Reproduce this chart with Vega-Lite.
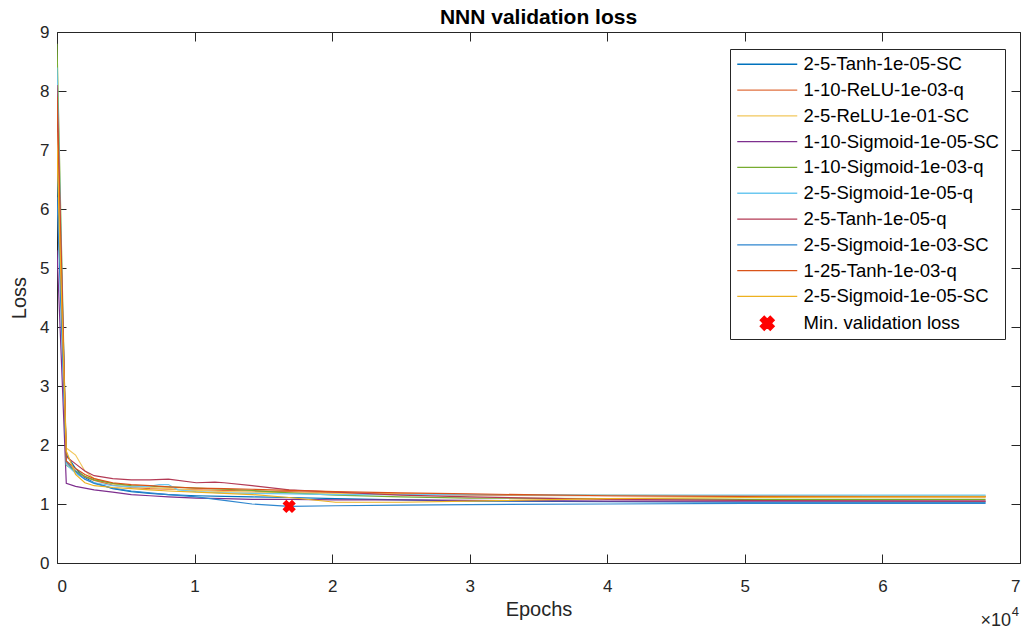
{
  "$schema": "https://vega.github.io/schema/vega-lite/v6.json",
  "width": 963,
  "height": 531,
  "autosize": {"type": "none"},
  "padding": {"left": 57, "top": 32, "right": 10, "bottom": 67},
  "background": "white",
  "title": {"text": "NNN validation loss", "font": "Liberation Sans", "fontSize": 21, "fontWeight": "bold", "color": "#000000", "anchor": "middle", "offset": -5},
  "config": {
    "view": {"stroke": "#262626", "strokeWidth": 1},
    "axis": {"grid": false, "domain": false, "tickColor": "#262626", "tickSize": -9, "tickWidth": 1, "labelFont": "Liberation Sans", "labelFontSize": 17, "labelColor": "#262626", "titleFont": "Liberation Sans", "titleFontSize": 20, "titleFontWeight": "normal", "titleColor": "#262626"}
  },
  "resolve": {"axis": {"x": "independent", "y": "independent"}},
  "layer": [
    {
      "data": {"values": [
        {"s":"2-5-Tanh-1e-05-SC","e":0,"l":6.7},{"s":"2-5-Tanh-1e-05-SC","e":675,"l":1.84},{"s":"2-5-Tanh-1e-05-SC","e":1350,"l":1.6},{"s":"2-5-Tanh-1e-05-SC","e":2025,"l":1.45},{"s":"2-5-Tanh-1e-05-SC","e":2700,"l":1.36},{"s":"2-5-Tanh-1e-05-SC","e":4050,"l":1.26},{"s":"2-5-Tanh-1e-05-SC","e":5400,"l":1.21},{"s":"2-5-Tanh-1e-05-SC","e":6750,"l":1.18},{"s":"2-5-Tanh-1e-05-SC","e":8100,"l":1.16},{"s":"2-5-Tanh-1e-05-SC","e":10125,"l":1.14},{"s":"2-5-Tanh-1e-05-SC","e":12150,"l":1.13},{"s":"2-5-Tanh-1e-05-SC","e":14175,"l":1.12},{"s":"2-5-Tanh-1e-05-SC","e":16875,"l":1.11},{"s":"2-5-Tanh-1e-05-SC","e":20250,"l":1.09},{"s":"2-5-Tanh-1e-05-SC","e":25000,"l":1.07},{"s":"2-5-Tanh-1e-05-SC","e":30000,"l":1.05},{"s":"2-5-Tanh-1e-05-SC","e":40000,"l":1.04},{"s":"2-5-Tanh-1e-05-SC","e":50000,"l":1.03},{"s":"2-5-Tanh-1e-05-SC","e":67500,"l":1.03},
        {"s":"1-10-ReLU-1e-03-q","e":0,"l":7.4},{"s":"1-10-ReLU-1e-03-q","e":675,"l":1.7},{"s":"1-10-ReLU-1e-03-q","e":1350,"l":1.55},{"s":"1-10-ReLU-1e-03-q","e":2025,"l":1.46},{"s":"1-10-ReLU-1e-03-q","e":2700,"l":1.4},{"s":"1-10-ReLU-1e-03-q","e":4050,"l":1.32},{"s":"1-10-ReLU-1e-03-q","e":5400,"l":1.28},{"s":"1-10-ReLU-1e-03-q","e":6750,"l":1.26},{"s":"1-10-ReLU-1e-03-q","e":8100,"l":1.25},{"s":"1-10-ReLU-1e-03-q","e":10125,"l":1.24},{"s":"1-10-ReLU-1e-03-q","e":12150,"l":1.23},{"s":"1-10-ReLU-1e-03-q","e":14175,"l":1.22},{"s":"1-10-ReLU-1e-03-q","e":16875,"l":1.21},{"s":"1-10-ReLU-1e-03-q","e":20250,"l":1.19},{"s":"1-10-ReLU-1e-03-q","e":25000,"l":1.17},{"s":"1-10-ReLU-1e-03-q","e":30000,"l":1.15},{"s":"1-10-ReLU-1e-03-q","e":40000,"l":1.14},{"s":"1-10-ReLU-1e-03-q","e":50000,"l":1.13},{"s":"1-10-ReLU-1e-03-q","e":67500,"l":1.13},
        {"s":"2-5-ReLU-1e-01-SC","e":0,"l":7.3},{"s":"2-5-ReLU-1e-01-SC","e":675,"l":1.95},{"s":"2-5-ReLU-1e-01-SC","e":1350,"l":1.83},{"s":"2-5-ReLU-1e-01-SC","e":2025,"l":1.56},{"s":"2-5-ReLU-1e-01-SC","e":2700,"l":1.43},{"s":"2-5-ReLU-1e-01-SC","e":4050,"l":1.34},{"s":"2-5-ReLU-1e-01-SC","e":5400,"l":1.3},{"s":"2-5-ReLU-1e-01-SC","e":6750,"l":1.28},{"s":"2-5-ReLU-1e-01-SC","e":8100,"l":1.26},{"s":"2-5-ReLU-1e-01-SC","e":10125,"l":1.23},{"s":"2-5-ReLU-1e-01-SC","e":12150,"l":1.21},{"s":"2-5-ReLU-1e-01-SC","e":14175,"l":1.2},{"s":"2-5-ReLU-1e-01-SC","e":16875,"l":1.19},{"s":"2-5-ReLU-1e-01-SC","e":20250,"l":1.18},{"s":"2-5-ReLU-1e-01-SC","e":25000,"l":1.17},{"s":"2-5-ReLU-1e-01-SC","e":30000,"l":1.16},{"s":"2-5-ReLU-1e-01-SC","e":40000,"l":1.15},{"s":"2-5-ReLU-1e-01-SC","e":50000,"l":1.14},{"s":"2-5-ReLU-1e-01-SC","e":67500,"l":1.14},
        {"s":"1-10-Sigmoid-1e-05-SC","e":0,"l":5.3},{"s":"1-10-Sigmoid-1e-05-SC","e":675,"l":1.35},{"s":"1-10-Sigmoid-1e-05-SC","e":1350,"l":1.3},{"s":"1-10-Sigmoid-1e-05-SC","e":2025,"l":1.27},{"s":"1-10-Sigmoid-1e-05-SC","e":2700,"l":1.24},{"s":"1-10-Sigmoid-1e-05-SC","e":4050,"l":1.2},{"s":"1-10-Sigmoid-1e-05-SC","e":5400,"l":1.16},{"s":"1-10-Sigmoid-1e-05-SC","e":6750,"l":1.14},{"s":"1-10-Sigmoid-1e-05-SC","e":8100,"l":1.12},{"s":"1-10-Sigmoid-1e-05-SC","e":10125,"l":1.1},{"s":"1-10-Sigmoid-1e-05-SC","e":12150,"l":1.09},{"s":"1-10-Sigmoid-1e-05-SC","e":14175,"l":1.08},{"s":"1-10-Sigmoid-1e-05-SC","e":16875,"l":1.08},{"s":"1-10-Sigmoid-1e-05-SC","e":20250,"l":1.07},{"s":"1-10-Sigmoid-1e-05-SC","e":25000,"l":1.07},{"s":"1-10-Sigmoid-1e-05-SC","e":30000,"l":1.06},{"s":"1-10-Sigmoid-1e-05-SC","e":40000,"l":1.05},{"s":"1-10-Sigmoid-1e-05-SC","e":50000,"l":1.05},{"s":"1-10-Sigmoid-1e-05-SC","e":67500,"l":1.05},
        {"s":"1-10-Sigmoid-1e-03-q","e":0,"l":8.8},{"s":"1-10-Sigmoid-1e-03-q","e":675,"l":1.66},{"s":"1-10-Sigmoid-1e-03-q","e":1350,"l":1.56},{"s":"1-10-Sigmoid-1e-03-q","e":2025,"l":1.47},{"s":"1-10-Sigmoid-1e-03-q","e":2700,"l":1.41},{"s":"1-10-Sigmoid-1e-03-q","e":4050,"l":1.35},{"s":"1-10-Sigmoid-1e-03-q","e":5400,"l":1.31},{"s":"1-10-Sigmoid-1e-03-q","e":6750,"l":1.3},{"s":"1-10-Sigmoid-1e-03-q","e":8100,"l":1.29},{"s":"1-10-Sigmoid-1e-03-q","e":10125,"l":1.27},{"s":"1-10-Sigmoid-1e-03-q","e":12150,"l":1.25},{"s":"1-10-Sigmoid-1e-03-q","e":14175,"l":1.23},{"s":"1-10-Sigmoid-1e-03-q","e":16875,"l":1.19},{"s":"1-10-Sigmoid-1e-03-q","e":20250,"l":1.15},{"s":"1-10-Sigmoid-1e-03-q","e":25000,"l":1.12},{"s":"1-10-Sigmoid-1e-03-q","e":30000,"l":1.1},{"s":"1-10-Sigmoid-1e-03-q","e":40000,"l":1.09},{"s":"1-10-Sigmoid-1e-03-q","e":50000,"l":1.08},{"s":"1-10-Sigmoid-1e-03-q","e":67500,"l":1.08},
        {"s":"2-5-Sigmoid-1e-05-q","e":0,"l":8.4},{"s":"2-5-Sigmoid-1e-05-q","e":675,"l":1.67},{"s":"2-5-Sigmoid-1e-05-q","e":1350,"l":1.52},{"s":"2-5-Sigmoid-1e-05-q","e":2025,"l":1.42},{"s":"2-5-Sigmoid-1e-05-q","e":2700,"l":1.36},{"s":"2-5-Sigmoid-1e-05-q","e":4050,"l":1.31},{"s":"2-5-Sigmoid-1e-05-q","e":5400,"l":1.29},{"s":"2-5-Sigmoid-1e-05-q","e":6750,"l":1.3},{"s":"2-5-Sigmoid-1e-05-q","e":7425,"l":1.33},{"s":"2-5-Sigmoid-1e-05-q","e":8100,"l":1.33},{"s":"2-5-Sigmoid-1e-05-q","e":8775,"l":1.24},{"s":"2-5-Sigmoid-1e-05-q","e":10125,"l":1.21},{"s":"2-5-Sigmoid-1e-05-q","e":12150,"l":1.19},{"s":"2-5-Sigmoid-1e-05-q","e":14175,"l":1.18},{"s":"2-5-Sigmoid-1e-05-q","e":16875,"l":1.17},{"s":"2-5-Sigmoid-1e-05-q","e":20250,"l":1.16},{"s":"2-5-Sigmoid-1e-05-q","e":25000,"l":1.16},{"s":"2-5-Sigmoid-1e-05-q","e":30000,"l":1.16},{"s":"2-5-Sigmoid-1e-05-q","e":40000,"l":1.15},{"s":"2-5-Sigmoid-1e-05-q","e":50000,"l":1.15},{"s":"2-5-Sigmoid-1e-05-q","e":67500,"l":1.15},
        {"s":"2-5-Tanh-1e-05-q","e":0,"l":8.1},{"s":"2-5-Tanh-1e-05-q","e":675,"l":1.8},{"s":"2-5-Tanh-1e-05-q","e":1350,"l":1.68},{"s":"2-5-Tanh-1e-05-q","e":2025,"l":1.56},{"s":"2-5-Tanh-1e-05-q","e":2700,"l":1.48},{"s":"2-5-Tanh-1e-05-q","e":4050,"l":1.43},{"s":"2-5-Tanh-1e-05-q","e":5400,"l":1.41},{"s":"2-5-Tanh-1e-05-q","e":6750,"l":1.41},{"s":"2-5-Tanh-1e-05-q","e":8100,"l":1.42},{"s":"2-5-Tanh-1e-05-q","e":10125,"l":1.36},{"s":"2-5-Tanh-1e-05-q","e":11475,"l":1.37},{"s":"2-5-Tanh-1e-05-q","e":12150,"l":1.36},{"s":"2-5-Tanh-1e-05-q","e":14175,"l":1.31},{"s":"2-5-Tanh-1e-05-q","e":16875,"l":1.24},{"s":"2-5-Tanh-1e-05-q","e":20250,"l":1.2},{"s":"2-5-Tanh-1e-05-q","e":25000,"l":1.15},{"s":"2-5-Tanh-1e-05-q","e":30000,"l":1.12},{"s":"2-5-Tanh-1e-05-q","e":40000,"l":1.08},{"s":"2-5-Tanh-1e-05-q","e":50000,"l":1.06},{"s":"2-5-Tanh-1e-05-q","e":67500,"l":1.05},
        {"s":"2-5-Sigmoid-1e-03-SC","e":0,"l":6.2},{"s":"2-5-Sigmoid-1e-03-SC","e":675,"l":1.72},{"s":"2-5-Sigmoid-1e-03-SC","e":1350,"l":1.55},{"s":"2-5-Sigmoid-1e-03-SC","e":2025,"l":1.42},{"s":"2-5-Sigmoid-1e-03-SC","e":2700,"l":1.35},{"s":"2-5-Sigmoid-1e-03-SC","e":4050,"l":1.27},{"s":"2-5-Sigmoid-1e-03-SC","e":5400,"l":1.22},{"s":"2-5-Sigmoid-1e-03-SC","e":6750,"l":1.19},{"s":"2-5-Sigmoid-1e-03-SC","e":8100,"l":1.16},{"s":"2-5-Sigmoid-1e-03-SC","e":10125,"l":1.12},{"s":"2-5-Sigmoid-1e-03-SC","e":12150,"l":1.06},{"s":"2-5-Sigmoid-1e-03-SC","e":14175,"l":1.0},{"s":"2-5-Sigmoid-1e-03-SC","e":16875,"l":0.96},{"s":"2-5-Sigmoid-1e-03-SC","e":20250,"l":0.97},{"s":"2-5-Sigmoid-1e-03-SC","e":25000,"l":0.98},{"s":"2-5-Sigmoid-1e-03-SC","e":30000,"l":0.99},{"s":"2-5-Sigmoid-1e-03-SC","e":40000,"l":1.0},{"s":"2-5-Sigmoid-1e-03-SC","e":50000,"l":1.01},{"s":"2-5-Sigmoid-1e-03-SC","e":67500,"l":1.01},
        {"s":"1-25-Tanh-1e-03-q","e":0,"l":7.9},{"s":"1-25-Tanh-1e-03-q","e":675,"l":1.73},{"s":"1-25-Tanh-1e-03-q","e":1350,"l":1.6},{"s":"1-25-Tanh-1e-03-q","e":2025,"l":1.5},{"s":"1-25-Tanh-1e-03-q","e":2700,"l":1.43},{"s":"1-25-Tanh-1e-03-q","e":4050,"l":1.36},{"s":"1-25-Tanh-1e-03-q","e":5400,"l":1.33},{"s":"1-25-Tanh-1e-03-q","e":6750,"l":1.31},{"s":"1-25-Tanh-1e-03-q","e":8100,"l":1.29},{"s":"1-25-Tanh-1e-03-q","e":10125,"l":1.27},{"s":"1-25-Tanh-1e-03-q","e":12150,"l":1.26},{"s":"1-25-Tanh-1e-03-q","e":14175,"l":1.25},{"s":"1-25-Tanh-1e-03-q","e":16875,"l":1.23},{"s":"1-25-Tanh-1e-03-q","e":20250,"l":1.21},{"s":"1-25-Tanh-1e-03-q","e":25000,"l":1.19},{"s":"1-25-Tanh-1e-03-q","e":30000,"l":1.17},{"s":"1-25-Tanh-1e-03-q","e":40000,"l":1.14},{"s":"1-25-Tanh-1e-03-q","e":50000,"l":1.13},{"s":"1-25-Tanh-1e-03-q","e":67500,"l":1.12},
        {"s":"2-5-Sigmoid-1e-05-SC","e":0,"l":7.0},{"s":"2-5-Sigmoid-1e-05-SC","e":675,"l":1.9},{"s":"2-5-Sigmoid-1e-05-SC","e":1350,"l":1.5},{"s":"2-5-Sigmoid-1e-05-SC","e":2025,"l":1.36},{"s":"2-5-Sigmoid-1e-05-SC","e":2700,"l":1.31},{"s":"2-5-Sigmoid-1e-05-SC","e":4050,"l":1.28},{"s":"2-5-Sigmoid-1e-05-SC","e":5400,"l":1.26},{"s":"2-5-Sigmoid-1e-05-SC","e":6750,"l":1.24},{"s":"2-5-Sigmoid-1e-05-SC","e":8100,"l":1.22},{"s":"2-5-Sigmoid-1e-05-SC","e":10125,"l":1.2},{"s":"2-5-Sigmoid-1e-05-SC","e":12150,"l":1.18},{"s":"2-5-Sigmoid-1e-05-SC","e":14175,"l":1.16},{"s":"2-5-Sigmoid-1e-05-SC","e":16875,"l":1.11},{"s":"2-5-Sigmoid-1e-05-SC","e":20250,"l":1.03},{"s":"2-5-Sigmoid-1e-05-SC","e":25000,"l":1.03},{"s":"2-5-Sigmoid-1e-05-SC","e":30000,"l":1.05},{"s":"2-5-Sigmoid-1e-05-SC","e":40000,"l":1.09},{"s":"2-5-Sigmoid-1e-05-SC","e":50000,"l":1.11},{"s":"2-5-Sigmoid-1e-05-SC","e":67500,"l":1.12}
      ]},
      "mark": {"type": "line", "strokeWidth": 1.2, "clip": true},
      "encoding": {
        "x": {"field": "e", "type": "quantitative", "scale": {"domain": [0, 70000], "nice": false}, "axis": {"title": "Epochs", "values": [0,10000,20000,30000,40000,50000,60000,70000], "labelExpr": "datum.value / 10000", "labelPadding": 24, "titlePadding": 5}},
        "y": {"field": "l", "type": "quantitative", "scale": {"domain": [0, 9], "nice": false}, "axis": {"title": "Loss", "values": [0,1,2,3,4,5,6,7,8,9], "labelPadding": 17, "titlePadding": 10}},
        "color": {"field": "s", "type": "nominal",
          "scale": {
            "domain": ["2-5-Tanh-1e-05-SC","1-10-ReLU-1e-03-q","2-5-ReLU-1e-01-SC","1-10-Sigmoid-1e-05-SC","1-10-Sigmoid-1e-03-q","2-5-Sigmoid-1e-05-q","2-5-Tanh-1e-05-q","2-5-Sigmoid-1e-03-SC","1-25-Tanh-1e-03-q","2-5-Sigmoid-1e-05-SC","Min. validation loss"],
            "range": ["#0072BD","#E0703F","#F2C75C","#7E2F8E","#77AC30","#6CC8F0","#B33A55","#2E86CF","#D95319","#EDB120","#FF0000"]
          },
          "legend": {
            "orient": "none", "legendX": 673, "legendY": 17, "title": null,
            "symbolType": "M-6,0H6", "symbolSize": 100, "symbolStrokeWidth": 1.3,
            "labelFont": "Liberation Sans", "labelFontSize": 18.5, "labelColor": "#000000", "labelLimit": 400,
            "rowPadding": 6.8, "padding": 6, "strokeColor": "#262626", "fillColor": "white",
            "symbolOffset": 22, "labelOffset": 27,
            "encode": {"symbols": {"update": {
              "shape": {"signal": "datum.value === 'Min. validation loss' ? 'M-1.4,-0.6L-0.6,-1.4L0,-0.8L0.6,-1.4L1.4,-0.6L0.8,0L1.4,0.6L0.6,1.4L0,0.8L-0.6,1.4L-1.4,0.6L-0.8,0Z' : 'M-6,0H6'"},
              "fill": {"signal": "datum.value === 'Min. validation loss' ? '#ff0000' : 'transparent'"},
              "opacity": {"value": 1}
            }}}
          }
        }
      }
    },
    {
      "data": {"values": [{"s": "Min. validation loss", "e": 16875, "l": 0.96}]},
      "mark": {"type": "point", "filled": true, "opacity": 1, "size": 90, "shape": "M-1.4,-0.6L-0.6,-1.4L0,-0.8L0.6,-1.4L1.4,-0.6L0.8,0L1.4,0.6L0.6,1.4L0,0.8L-0.6,1.4L-1.4,0.6L-0.8,0Z"},
      "encoding": {
        "x": {"field": "e", "type": "quantitative", "scale": {"domain": [0, 70000], "nice": false}, "axis": {"orient": "top", "labels": false, "title": null, "values": [0,10000,20000,30000,40000,50000,60000,70000]}},
        "y": {"field": "l", "type": "quantitative", "scale": {"domain": [0, 9], "nice": false}, "axis": {"orient": "right", "labels": false, "title": null, "values": [0,1,2,3,4,5,6,7,8,9]}},
        "color": {"field": "s", "type": "nominal", "legend": null}
      }
    },
    {
      "data": {"values": [{"t": "×10", "p": "4"}]},
      "layer": [
        {
          "mark": {"type": "text", "align": "right", "baseline": "middle", "font": "Liberation Sans", "fontSize": 18, "color": "#262626", "clip": false, "dx": -9},
          "encoding": {
            "x": {"datum": 70000, "type": "quantitative", "scale": {"domain": [0, 70000], "nice": false}, "axis": null},
            "y": {"datum": -0.98, "type": "quantitative", "scale": {"domain": [0, 9], "nice": false}, "axis": null},
            "text": {"field": "t"}
          }
        },
        {
          "mark": {"type": "text", "align": "right", "baseline": "middle", "font": "Liberation Sans", "fontSize": 13, "color": "#262626", "clip": false, "dx": -1, "dy": -9},
          "encoding": {
            "x": {"datum": 70000, "type": "quantitative", "scale": {"domain": [0, 70000], "nice": false}, "axis": null},
            "y": {"datum": -0.98, "type": "quantitative", "scale": {"domain": [0, 9], "nice": false}, "axis": null},
            "text": {"field": "p"}
          }
        }
      ]
    }
  ]
}
